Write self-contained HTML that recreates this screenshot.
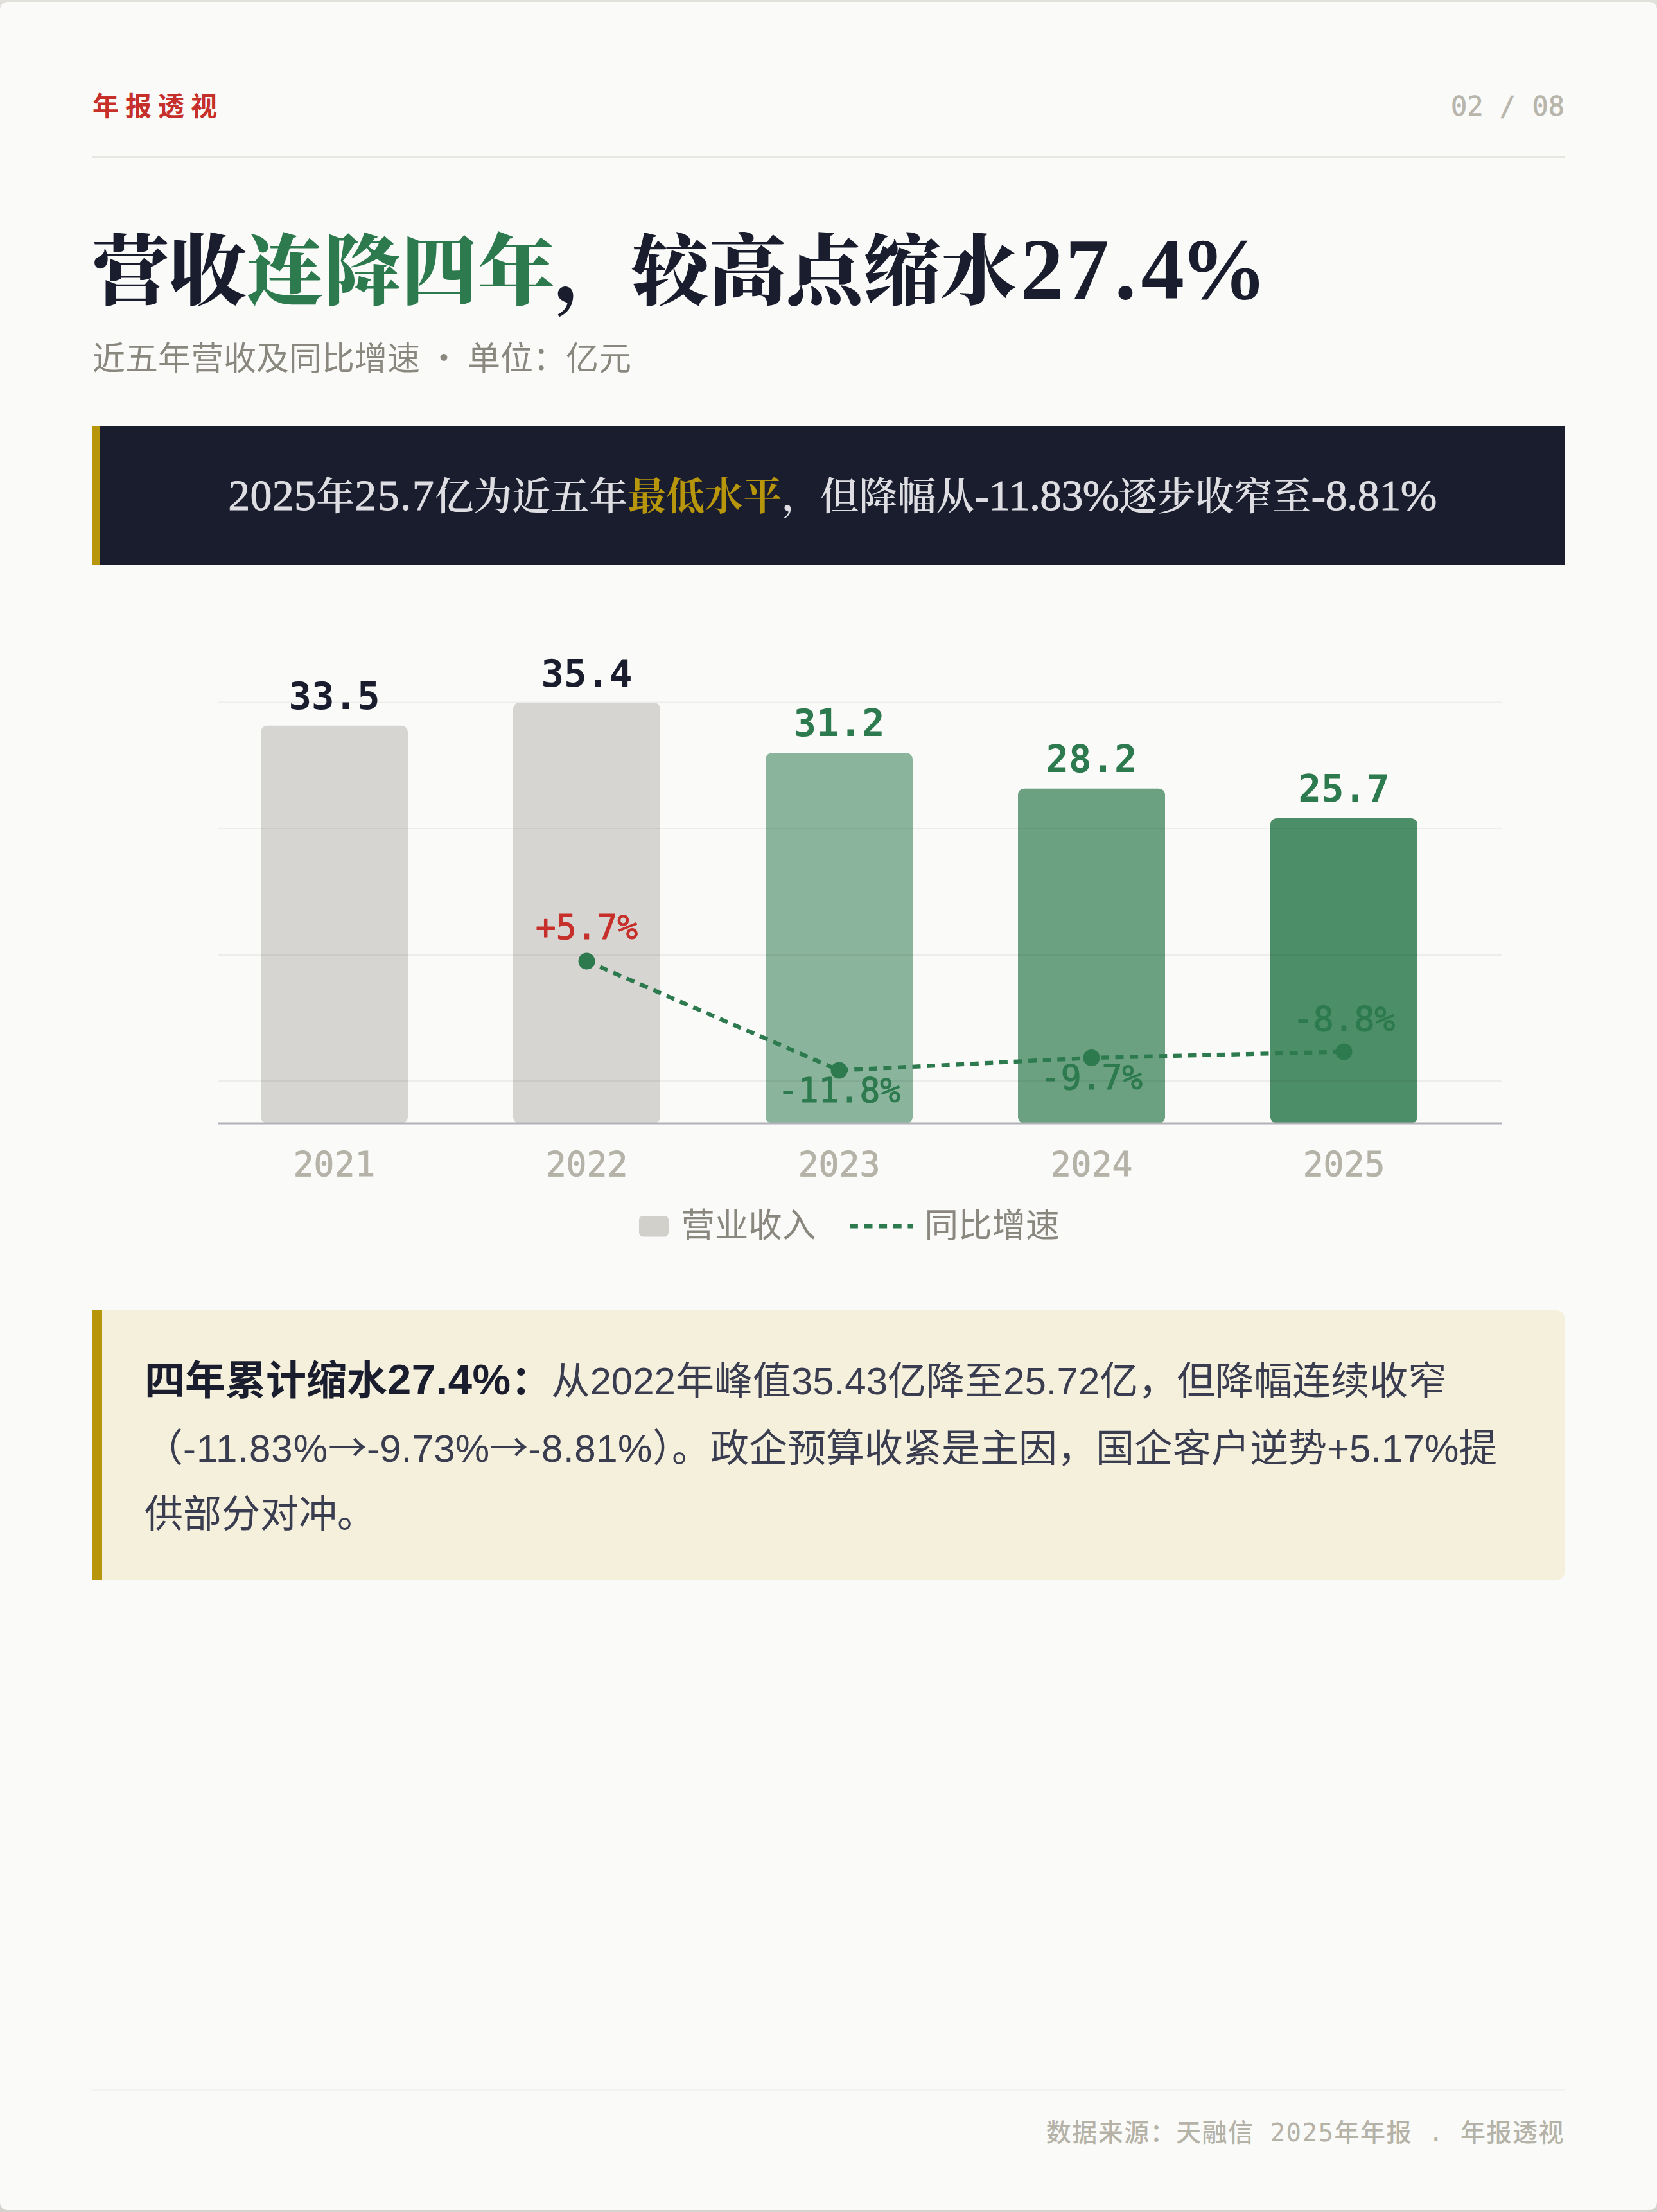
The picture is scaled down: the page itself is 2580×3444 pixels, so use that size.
<!DOCTYPE html>
<html lang="zh-CN">
<head>
<meta charset="utf-8">
<title>年报透视 · 营收连降四年</title>
<style>
  html, body { margin: 0; padding: 0; }
  body {
    width: 2580px; height: 3444px; overflow: hidden; position: relative;
    background: linear-gradient(to bottom, #e2e0da 0, #e2e0da 1722px, #d4d2cc 1722px, #d4d2cc 100%);
    font-family: "Liberation Sans", "Noto Sans CJK SC", sans-serif;
    color: #1a1d2e;
  }
  .card {
    position: absolute; left: 0; top: 3px; width: 2580px; height: 3438px;
    background: #fafaf8; border-radius: 12px; overflow: hidden;
  }
  .abs { position: absolute; white-space: nowrap; }

  /* header */
  .brand {
    left: 144px; top: 133px; height: 60px; line-height: 60px;
    font-size: 41px; font-weight: 700; letter-spacing: 10px; color: #c62f2a;
  }
  .pageno {
    right: 144px; top: 133px; -webkit-text-stroke: 0.6px #b8b5ab; height: 60px; line-height: 60px;
    font-family: "DejaVu Sans Mono", "Liberation Mono", monospace;
    font-size: 42px; color: #b8b5ab; letter-spacing: 0;
  }
  .rule { left: 144px; width: 2292px; height: 3px; background: #e8e6e1; }

  /* title */
  .title {
    left: 144px; top: 332px; height: 180px; line-height: 180px;
    font-family: "Liberation Serif", "Noto Serif CJK SC", serif;
    font-size: 120px; font-weight: 900; color: #1a1d2e;
  }
  .title .g { color: #2d7a4f; }
  .title .lat { font-size: 135px; letter-spacing: 0; }
  .cjk { font-family: "Noto Sans CJK SC", sans-serif; line-height: 0; }
  .lat, .latb { line-height: 0; }
  .subtitle {
    left: 144px; top: 520px; height: 72px; line-height: 72px;
    font-size: 51px; color: #8a877f;
  }

  /* banner */
  .banner {
    left: 144px; top: 660px; width: 2280px; height: 216px;
    background: #1a1d2e; border-left: 12px solid #b8960c;
    text-align: center; line-height: 222px;
    font-family: "Liberation Serif", "Noto Serif CJK SC", serif;
    font-size: 60px; font-weight: 600; color: #dddde2;
  }
  .banner b { color: #b8960c; font-weight: 700; }
  .banner .lat { font-size: 68px; font-weight: 400; -webkit-text-stroke: 0.9px #dddde2; }

  /* chart */
  .chart { left: 0; top: 0; width: 2580px; height: 2000px; }
  .chart text { font-family: "DejaVu Sans Mono", "Liberation Mono", monospace; }
  .legend {
    top: 1865.5px; height: 78px; line-height: 78px;
    font-size: 52.5px; color: #8a877f;
  }

  /* note */
  .note {
    left: 144px; top: 2037px; width: 2277px; height: 420px;
    background: #f5f0dc; border-left: 15px solid #b8960c; border-radius: 0 12px 12px 0;
  }
  .note p {
    position: absolute; left: 66px; top: 53.2px; width: 2145px; margin: 0;
    font-size: 60px; line-height: 102px; color: #3a3d50; white-space: nowrap;
  }
  .note p b { color: #1a1d2e; font-weight: 700; font-size: 63px; line-height: 112px; }
  .note .latb { font-size: 67px; letter-spacing: 0.5px; }
  .note .lat { letter-spacing: 0.6px; }

  /* footer */
  .foot {
    right: 144px; top: 3288px; height: 60px; line-height: 60px;
    font-family: "DejaVu Sans Mono", "Liberation Mono", "Noto Sans CJK SC", monospace;
    font-size: 39px; font-weight: 500; color: #b5b2a8; letter-spacing: 1.5px;
  }
</style>
</head>
<body>
<div class="card">
  <div class="abs brand">年报透视</div>
  <div class="abs pageno">02 / 08</div>
  <div class="abs rule" style="top:240px"></div>

  <div class="abs title">营收<span class="g">连降四年</span>，较高点缩水<span class="lat" style="margin-left:4.5px"><span style="letter-spacing:3px">2</span><span style="letter-spacing:9px">7</span><span style="letter-spacing:7.2px">.</span><span style="letter-spacing:-6.2px">4</span>%</span></div>
  <div class="abs subtitle">近五年营收及同比增速<span class="cjk" style="white-space:pre"> · </span>单位：亿元</div>

  <div class="abs banner"><span class="lat" style="letter-spacing:0.3px">2025</span>年<span class="lat" style="letter-spacing:1.5px">25.7</span>亿为近五年<b>最低水平</b>，但降幅从<span class="lat" style="letter-spacing:-0.8px">-11.83%</span>逐步收窄至<span class="lat" style="letter-spacing:-0.5px">-8.81%</span></div>

  <svg class="abs chart" width="2580" height="2000" viewBox="0 0 2580 2000">
    <!-- bars -->
    <g>
      <rect x="406" y="1126.8" width="229" height="619.2" rx="9.7" fill="#d7d5d1"/>
      <rect x="799" y="1091" width="229" height="655" rx="9.7" fill="#d7d5d1"/>
      <rect x="1192" y="1169.2" width="229" height="576.8" rx="9.7" fill="#2d7a4f" fill-opacity="0.55"/>
      <rect x="1585" y="1224.7" width="229" height="521.3" rx="9.7" fill="#2d7a4f" fill-opacity="0.70"/>
      <rect x="1978" y="1270.9" width="229" height="475.1" rx="9.7" fill="#2d7a4f" fill-opacity="0.85"/>
    </g>
    <!-- grid -->
    <g stroke="#1a1d2e" stroke-opacity="0.06" stroke-width="2.2">
      <line x1="340" x2="2338" y1="1090.5" y2="1090.5"/>
      <line x1="340" x2="2338" y1="1287" y2="1287"/>
      <line x1="340" x2="2338" y1="1484" y2="1484"/>
      <line x1="340" x2="2338" y1="1680" y2="1680"/>
    </g>
    <line x1="340" x2="2338" y1="1746" y2="1746" stroke="#b1b1b7" stroke-width="3"/>
    <!-- value labels -->
    <g font-size="59" font-weight="700" text-anchor="middle" fill="#1a1d2e">
      <text x="520.5" y="1101.3">33.5</text>
      <text x="913.5" y="1065.5">35.4</text>
      <text x="1306.5" y="1143.2" fill="#2d7a4f">31.2</text>
      <text x="1699.5" y="1198.7" fill="#2d7a4f">28.2</text>
      <text x="2092.5" y="1244.9" fill="#2d7a4f">25.7</text>
    </g>
    <!-- year labels -->
    <g font-size="53" text-anchor="middle" fill="#b5b2a8" stroke="#b5b2a8" stroke-width="0.8">
      <text x="520.5" y="1828.3">2021</text>
      <text x="913.5" y="1828.3">2022</text>
      <text x="1306.5" y="1828.3">2023</text>
      <text x="1699.5" y="1828.3">2024</text>
      <text x="2092.5" y="1828.3">2025</text>
    </g>
    <!-- growth line -->
    <polyline points="913.5,1493.5 1306.5,1663.5 1699.5,1644 2092.5,1634.5" fill="none" stroke="#2d7a4f" stroke-width="6.4" stroke-dasharray="12.9 9.7"/>
    <g fill="#2d7a4f">
      <circle cx="913.5" cy="1493.5" r="13"/>
      <circle cx="1306.5" cy="1663.5" r="13"/>
      <circle cx="1699.5" cy="1644" r="13"/>
      <circle cx="2092.5" cy="1634.5" r="13"/>
    </g>
    <g font-size="53" font-weight="500" text-anchor="middle" stroke-width="1.1" stroke-linejoin="round">
      <text x="913.5" y="1458.5" fill="#c62f2a" stroke="#c62f2a">+5.7%</text>
      <text x="1306.5" y="1713" fill="#2d7a4f" stroke="#2d7a4f">-11.8%</text>
      <text x="1699.5" y="1692.5" fill="#2d7a4f" stroke="#2d7a4f">-9.7%</text>
      <text x="2092.5" y="1602" fill="#2d7a4f" stroke="#2d7a4f">-8.8%</text>
    </g>
    <!-- legend marks -->
    <rect x="995" y="1890" width="46" height="32.5" rx="6.4" fill="#d1d0ca"/>
    <line x1="1323" x2="1421" y1="1906.2" y2="1906.2" stroke="#2d7a4f" stroke-width="6.4" stroke-dasharray="12.9 9.7"/>
  </svg>
  <div class="abs legend" style="left:1060.3px">营业收入</div>
  <div class="abs legend" style="left:1439.6px">同比增速</div>

  <div class="abs note"><p><b>四年累计缩水<span class="latb">27.4%</span>：</b>从2022年峰值35.43亿降至25.72亿，但降幅连续收窄<br>（<span class="lat" style="letter-spacing:1px">-11.83%</span><span class="cjk">→</span><span class="lat" style="letter-spacing:0.2px">-9.73%</span><span class="cjk">→</span><span class="lat">-8.81%</span>）。政企预算收紧是主因，国企客户逆势+5.17%提<br>供部分对冲。</p></div>

  <div class="abs rule" style="top:3249px; background:#f3f2ef"></div>
  <div class="abs foot">数据来源：天融信 2025年年报 . 年报透视</div>
</div>
</body>
</html>
